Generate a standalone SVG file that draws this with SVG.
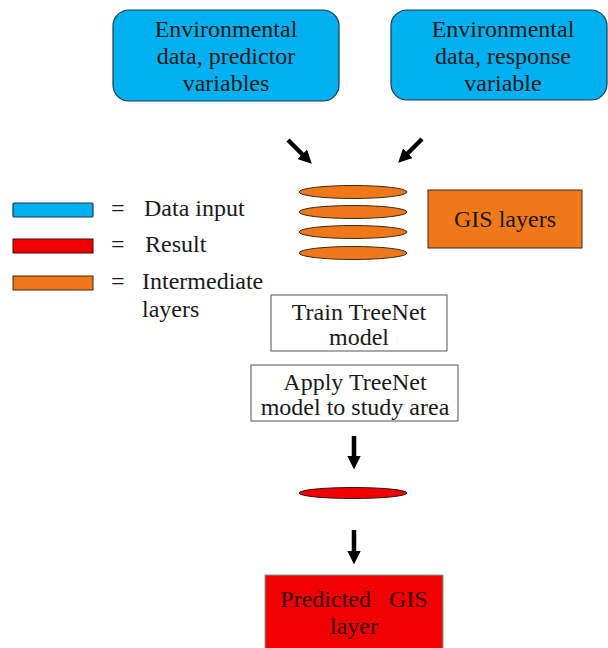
<svg xmlns="http://www.w3.org/2000/svg" width="608" height="648" viewBox="0 0 608 648">
<style>
text{font-family:"Liberation Serif","DejaVu Serif",serif;font-size:24px;fill:#1a1a1a;text-anchor:middle}
.lg{text-anchor:start}
.blue{fill:#00b0f0;stroke:#1f3a4a;stroke-width:1.2}
.orange{fill:#f07818;stroke:#3a2a1a;stroke-width:1}
.red{fill:#f00000;stroke:#3a1010;stroke-width:1}
.plain{fill:#fff;stroke:#555;stroke-width:1}
.arr{stroke:#000;stroke-width:4.5;fill:none;marker-end:url(#ah)}
</style>
<defs>
<marker id="ah" viewBox="0 0 10 10" refX="6" refY="5" markerWidth="3" markerHeight="3" orient="auto" markerUnits="strokeWidth">
<path d="M0,0 L10,5 L0,10 z" fill="#000"/>
</marker>
</defs>
<g id="connectors">
<line class="arr" x1="288" y1="140" x2="308" y2="160"/>
<line class="arr" x1="422" y1="139" x2="402" y2="159"/>
<line class="arr" x1="354" y1="436" x2="354" y2="464"/>
<line class="arr" x1="354" y1="530" x2="354" y2="559"/>
</g>
<g id="predictor">
<rect class="blue" x="113" y="10" width="226" height="91" rx="16"/>
<text x="226" y="37">Environmental</text>
<text x="226" y="64">data, predictor</text>
<text x="226" y="91">variables</text>
</g>
<g id="response">
<rect class="blue" x="391" y="10" width="216" height="90" rx="16"/>
<text x="503" y="37">Environmental</text>
<text x="503" y="64">data, response</text>
<text x="503" y="91">variable</text>
</g>
<g id="layers">
<ellipse class="orange" cx="353" cy="192" rx="54" ry="6.5"/>
<ellipse class="orange" cx="353" cy="212" rx="54" ry="6.5"/>
<ellipse class="orange" cx="353" cy="232" rx="54" ry="6.5"/>
<ellipse class="orange" cx="353" cy="253" rx="54" ry="6.5"/>
</g>
<g id="gis">
<rect class="orange" x="428" y="190" width="154" height="58"/>
<text x="505" y="227">GIS layers</text>
</g>
<g id="legend">
<rect class="blue" x="13" y="203" width="80" height="14" rx="1"/>
<rect class="red" x="13" y="239" width="80" height="14"/>
<rect class="orange" x="13" y="276" width="80" height="14"/>
<text class="lg" x="111" y="216">=</text>
<text class="lg" x="111" y="252">=</text>
<text class="lg" x="111" y="289">=</text>
<text class="lg" x="144" y="216">Data input</text>
<text class="lg" x="145" y="252">Result</text>
<text class="lg" x="142" y="289">Intermediate</text>
<text class="lg" x="142" y="317">layers</text>
</g>
<g id="train">
<rect class="plain" x="271" y="295" width="176" height="56"/>
<text x="359" y="320">Train TreeNet</text>
<text x="359" y="345">model</text>
</g>
<g id="apply">
<rect class="plain" x="251" y="365" width="207" height="56"/>
<text x="355" y="390">Apply TreeNet</text>
<text x="355" y="415">model to study area</text>
</g>
<g id="result">
<ellipse class="red" cx="353" cy="493" rx="54" ry="5.5"/>
</g>
<g id="predicted">
<rect x="265" y="575" width="178" height="80" fill="#f00000" stroke="#6aa8a0" stroke-width="1"/>
<text x="354" y="607" style="fill:#3a0000" xml:space="preserve">Predicted   GIS</text>
<text x="354" y="634" style="fill:#3a0000">layer</text>
</g>
</svg>
